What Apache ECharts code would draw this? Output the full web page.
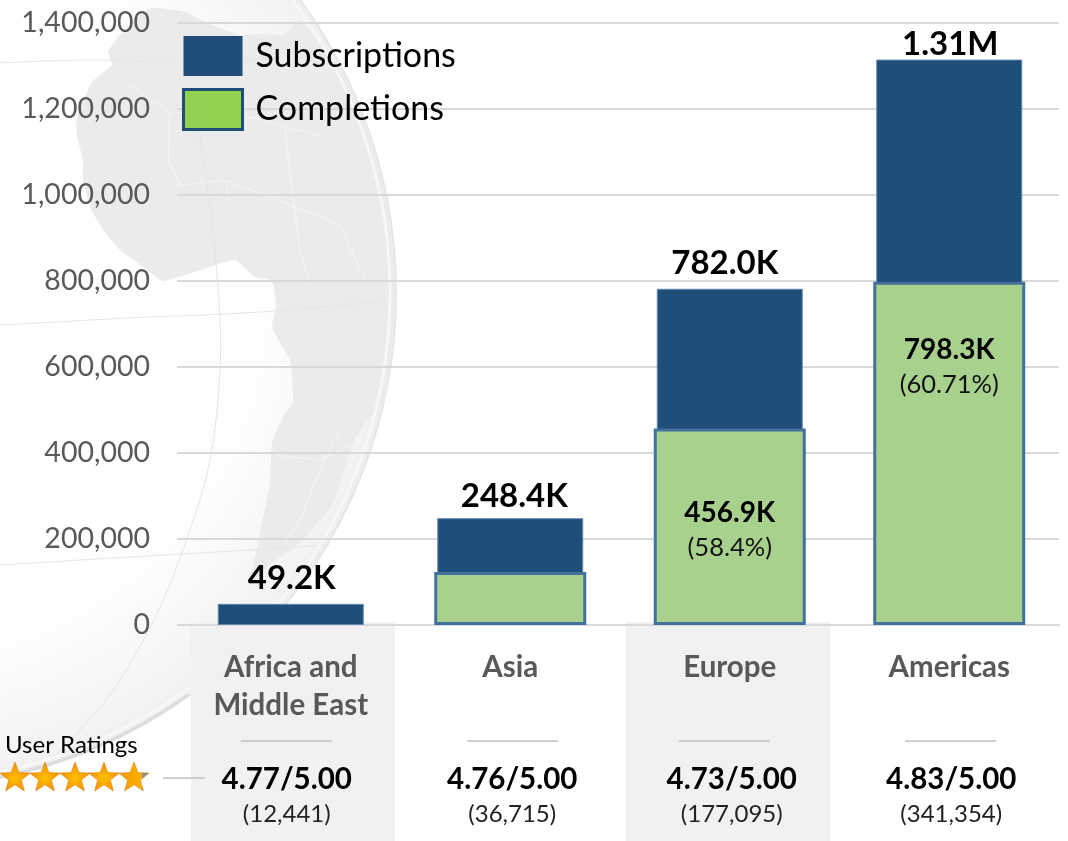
<!DOCTYPE html>
<html>
<head>
<meta charset="utf-8">
<style>
  html, body { margin: 0; padding: 0; background: #fff; }
  #chart { width: 1068px; height: 841px; }
</style>
<script src="https://cdn.jsdelivr.net/npm/echarts@6/dist/echarts.min.js"></script>
</head>
<body>
<div id="chart"></div>
<script>
const regions = ['Africa and\nMiddle East', 'Asia', 'Europe', 'Americas']
const subscriptions = [49200, 248400, 782000, 1315000]
const completions = [null, 123000, 456900, 798300]
const subscriptionLabels = ['49.2K', '248.4K', '782.0K', '1.31M']
const completionLabels = ['', '', '456.9K', '798.3K']
const completionShares = ['', '', '(58.4%)', '(60.71%)']
const ratings = ['4.77/5.00', '4.76/5.00', '4.73/5.00', '4.83/5.00']
const ratingCounts = ['(12,441)', '(36,715)', '(177,095)', '(341,354)']

const FONT = 'Lato, Carlito, "Open Sans", sans-serif'
const chart = echarts.init(document.getElementById('chart'), null, { renderer: 'canvas' })

// hand placed in the source slide, so the labels don't sit evenly on the bars
const totalNudge = [[1, -3], [4, 1], [-5, -3], [1, 7]]
const labelDrop = [0, 0, 66, 50]
const ruleShift = [-4, 3, -5, 2]
const ratingShift = [-4, 2, 2, 2]

chart.setOption({
    animation: false,
    backgroundColor: '#fff',
    textStyle: { fontFamily: FONT },
    grid: { left: 181, right: 9, top: 23, height: 602 },
    legend: {
        left: 182,
        top: 36,
        padding: 0,
        orient: 'vertical',
        itemWidth: 59,
        itemHeight: 40,
        itemGap: 12,
        selectedMode: false,
        textStyle: { fontSize: 34, color: '#000', fontFamily: FONT },
        data: [
            {
                name: 'Subscriptions',
                icon: 'rect',
                itemStyle: { color: '#1f4e79', borderWidth: 0 },
                textStyle: { padding: [0, 0, 6, 8] },
            },
            {
                name: 'Completions',
                icon: 'rect',
                itemStyle: { color: '#92d050', borderColor: '#1f4e79', borderWidth: 3 },
                textStyle: { padding: [8, 0, 0, 8] },
            },
        ],
    },
    xAxis: [
        {
            type: 'category',
            data: regions,
            axisTick: { show: false },
            axisLine: { lineStyle: { color: '#d9d9d9', width: 2 } },
            axisLabel: {
                interval: 0,
                margin: 23,
                color: '#595959',
                fontSize: 29.5,
                fontWeight: 'bold',
                lineHeight: 38,
                fontFamily: FONT,
                verticalAlign: 'top',
            },
        },
        // hidden twin so the green bars can be a little wider and stay centred
        { type: 'category', data: regions, show: false },
    ],
    yAxis: {
        type: 'value',
        min: 0,
        max: 1400000,
        interval: 200000,
        axisLine: { show: false },
        axisTick: { show: true, length: 4, lineStyle: { color: '#d9d9d9', width: 2 } },
        splitLine: { lineStyle: { color: '#d9d9d9', width: 2 } },
        axisLabel: {
            margin: 31,
            color: '#595959',
            fontSize: 28.5,
            fontFamily: FONT,
            formatter: (v) => v.toLocaleString('en-US'),
        },
    },
    series: [
        {
            name: 'Subscriptions',
            type: 'bar',
            barWidth: 146,
            data: subscriptions.map((value, i) => ({
                value,
                label: { offset: totalNudge[i] },
            })),
            itemStyle: { color: '#1f4e79', borderColor: '#5f8bb0', borderWidth: 1 },
            label: {
                show: true,
                position: 'top',
                distance: 6,
                color: '#000',
                fontSize: 33,
                fontWeight: 'bold',
                fontFamily: FONT,
                formatter: (p) => subscriptionLabels[p.dataIndex],
            },
        },
        {
            name: 'Completions',
            type: 'bar',
            xAxisIndex: 1,
            barWidth: 152,
            data: completions.map((value, i) => ({
                value,
                label: { distance: labelDrop[i] },
            })),
            itemStyle: { color: '#a9d18e', borderColor: '#41719c', borderWidth: 3 },
            label: {
                show: true,
                position: 'insideTop',
                color: '#000',
                fontFamily: FONT,
                formatter: (p) => completionLabels[p.dataIndex]
                    ? `{b|${completionLabels[p.dataIndex]}}\n{s|${completionShares[p.dataIndex]}}`
                    : '',
                rich: {
                    b: { fontSize: 28, fontWeight: 'bold', color: '#000', lineHeight: 36, fontFamily: FONT },
                    s: { fontSize: 25.5, color: '#111', lineHeight: 34, fontFamily: FONT },
                },
            },
        },
    ],
})

// globe backdrop, decoration only
const africaOutline = [
    [150, 8], [120, 35], [108, 52], [112, 65], [92, 82], [77, 118], [77, 136], [83, 160], [83, 180],
    [92, 211], [105, 232], [119, 249], [150, 272], [163, 281], [204, 269], [235, 260], [255, 277],
    [272, 281], [276, 306], [272, 327], [290, 361], [293, 402], [283, 417], [272, 443], [270, 483],
    [260, 533], [250, 585], [267, 567], [300, 543], [333, 503], [353, 443], [370, 417], [385, 400],
    [393, 330], [395, 290], [388, 215], [368, 130], [340, 70], [300, 20], [285, 34], [262, 34],
    [240, 35], [205, 22], [185, 12],
]
const borders = [
    [[125, 82], [170, 112], [255, 118], [320, 136]],
    [[170, 112], [168, 160], [180, 185], [225, 180], [230, 200]],
    [[285, 130], [292, 190], [300, 250], [310, 285]],
    [[225, 180], [290, 205], [340, 225], [365, 280]],
    [[340, 430], [320, 470], [300, 520], [285, 545]],
    [[275, 455], [320, 460], [350, 445]],
]
const meridians = [
    [[0, 63], [90, 60], [170, 62], [280, 58]],
    [[0, 325], [130, 318], [260, 312], [395, 300]],
    [[0, 565], [130, 557], [250, 550], [330, 545]],
    [[195, 110], [215, 250], [218, 400], [190, 530], [120, 680], [40, 770]],
]

function starPoints(cx, cy, r) {
    const pts = []
    for (let i = 0; i < 10; i++) {
        const rad = i % 2 ? r * 0.42 : r
        const a = -Math.PI / 2 + i * Math.PI / 5
        pts.push([cx + rad * Math.cos(a), cy + rad * Math.sin(a)])
    }
    return pts
}

const panelTop = 622
const panels = [[191, 204], [626, 204]].map(([x, w]) => ({
    type: 'rect', z: -5, silent: true,
    shape: { x, y: panelTop, width: w, height: 841 - panelTop },
    style: { fill: '#f1f1f1' },
}))

const globe = [
    {
        type: 'circle', z: -20, silent: true,
        shape: { cx: -99, cy: 293, r: 495 },
        style: {
            fill: new echarts.graphic.RadialGradient(0.5, 0.5, 0.5, [
                { offset: 0, color: '#ffffff' },
                { offset: 0.72, color: '#fefefe' },
                { offset: 0.97, color: '#f3f3f3' },
                { offset: 1, color: '#eeeeee' },
            ]),
            stroke: '#e6e6e6',
            lineWidth: 2,
        },
    },
    {
        type: 'polygon', z: -18, silent: true,
        shape: { points: africaOutline, smooth: 0.15 },
        style: { fill: '#ebebeb' },
    },
    ...borders.map((points) => ({
        type: 'polyline', z: -17, silent: true,
        shape: { points },
        style: { stroke: '#f6f6f6', lineWidth: 1, fill: null },
    })),
    ...meridians.map((points) => ({
        type: 'polyline', z: -16, silent: true,
        shape: { points, smooth: 0.4 },
        style: { stroke: '#e6e6e6', lineWidth: 1, fill: null },
    })),
    {
        type: 'circle', z: -15, silent: true,
        shape: { cx: -99, cy: 293, r: 489 },
        style: { fill: null, stroke: '#f7f7f7', lineWidth: 3 },
    },
    {
        type: 'arc', z: -14, silent: true,
        shape: { cx: -99, cy: 293, r: 494, startAngle: 0.95, endAngle: 1.42 },
        style: { fill: null, stroke: '#dcdcdc', lineWidth: 3 },
    },
]

const centers = regions.map((_, i) => chart.convertToPixel({ xAxisIndex: 0 }, i))
const ratingBlocks = []
centers.forEach((cx, i) => {
    const rx = cx + ruleShift[i]
    const tx = cx + ratingShift[i]
    ratingBlocks.push(
        {
            type: 'line', z: 5, silent: true,
            shape: { x1: rx - 46, y1: 741, x2: rx + 45, y2: 741 },
            style: { stroke: '#bfbfbf', lineWidth: 1.5 },
        },
        {
            type: 'text', z: 5, silent: true, x: tx, y: 779,
            style: { text: ratings[i], fill: '#000', font: 'bold 29.5px ' + FONT, align: 'center', verticalAlign: 'middle' },
        },
        {
            type: 'text', z: 5, silent: true, x: tx, y: 814,
            style: { text: ratingCounts[i], fill: '#222', font: '24px ' + FONT, align: 'center', verticalAlign: 'middle' },
        },
    )
})

const starCenters = [15, 45, 75, 104, 134]
const stars = starCenters.map((cx, i) => ({
    type: 'polygon', z: 5, silent: true,
    shape: { points: starPoints(cx, 778, 16) },
    style: {
        fill: i < 4
            ? new echarts.graphic.RadialGradient(0.5, 0.55, 0.55, [
                { offset: 0, color: '#ffc000' },
                { offset: 1, color: '#f58a00' },
            ])
            : new echarts.graphic.LinearGradient(0, 0, 1, 0, [
                { offset: 0, color: '#f79a00' },
                { offset: 0.76, color: '#ffb000' },
                { offset: 0.76, color: '#8c8c8c' },
                { offset: 1, color: '#8c8c8c' },
            ]),
        stroke: '#d98a1a',
        lineWidth: 0.6,
    },
}))

chart.setOption({
    graphic: {
        elements: [
            ...globe,
            ...panels,
            ...ratingBlocks,
            ...stars,
            {
                type: 'text', z: 5, silent: true, x: 5, y: 745,
                style: { text: 'User Ratings', fill: '#000', font: '24px ' + FONT, verticalAlign: 'middle' },
            },
            {
                type: 'line', z: 5, silent: true,
                shape: { x1: 163, y1: 778, x2: 205, y2: 778 },
                style: { stroke: '#bfbfbf', lineWidth: 1.5 },
            },
        ],
    },
})
</script>
</body>
</html>
